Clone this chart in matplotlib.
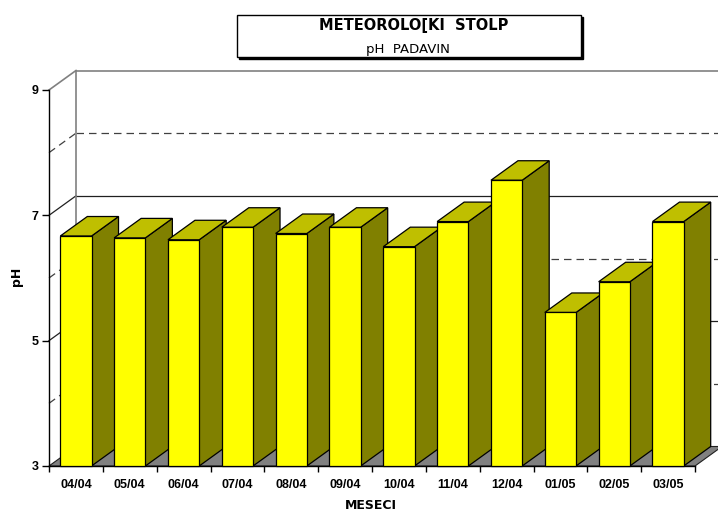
import matplotlib
matplotlib.use('Agg')
import matplotlib.pyplot as plt
from matplotlib.patches import Polygon, Rectangle

plt.rcParams['font.family'] = ['Liberation Sans', 'DejaVu Sans']

# data
months = ['04/04', '05/04', '06/04', '07/04', '08/04', '09/04',
          '10/04', '11/04', '12/04', '01/05', '02/05', '03/05']
ph = [6.67, 6.64, 6.61, 6.81, 6.71, 6.81, 6.50, 6.90, 7.56, 5.45, 5.94, 6.90]
y_ticks = [3, 5, 7, 9]
grid_solid = [5, 7]
grid_dashed = [4, 6, 8]

W, H = 718, 513
fig = plt.figure(figsize=(W / 100, H / 100), dpi=100)
ax = fig.add_axes([49 / W, 1 - 466 / H, 646 / W, 376 / H])
ax.set_xlim(0, 12)
ax.set_ylim(3, 9)

# depth of the fake 3d box, in data units
dx = 27 / (646 / 12)
dy = 19.5 / (376 / 6)
n = len(months)

# back wall + left wall lines
for v in grid_solid:
    ax.plot([dx, n + dx], [v + dy, v + dy], color='#202020', lw=0.9, clip_on=False, zorder=1)
    ax.plot([0, dx], [v, v + dy], color='#202020', lw=0.9, clip_on=False, zorder=1)
for v in grid_dashed:
    ax.plot([dx, n + dx], [v + dy, v + dy], color='#404040', lw=0.9, ls=(0, (6, 4)),
            clip_on=False, zorder=1)
    ax.plot([0, dx], [v, v + dy], color='#404040', lw=0.9, ls=(0, (6, 4)),
            clip_on=False, zorder=1)
ax.plot([dx, n + dx], [9 + dy, 9 + dy], color='#808080', lw=1.2, clip_on=False, zorder=1)
ax.plot([0, dx], [9, 9 + dy], color='#808080', lw=1.2, clip_on=False, zorder=1)
ax.plot([dx, dx], [3 + dy, 9 + dy], color='#808080', lw=1.2, clip_on=False, zorder=1)

# floor
floor = Polygon([(0, 3), (n, 3), (n + dx, 3 + dy), (dx, 3 + dy)], closed=True,
                fc='#808080', ec='#202020', lw=0.8, clip_on=False, zorder=2)
ax.add_patch(floor)

# bars
bw = 0.58
for i, v in enumerate(ph):
    xl = i + 0.5 - bw / 2
    xr = xl + bw
    side = [(xr, 3), (xr + dx, 3 + dy), (xr + dx, v + dy), (xr, v)]
    top = [(xl, v), (xr, v), (xr + dx, v + dy), (xl + dx, v + dy)]
    front = [(xl, 3), (xr, 3), (xr, v), (xl, v)]
    for pts, c in [(side, '#808000'), (top, '#BFBF00'), (front, '#FFFF00')]:
        ax.add_patch(Polygon(pts, closed=True, fc=c, ec='black', lw=0.9,
                             clip_on=False, zorder=3))

# axes styling
for s in ['top', 'right']:
    ax.spines[s].set_visible(False)
ax.spines['left'].set_linewidth(1.0)
ax.spines['bottom'].set_linewidth(1.0)
ax.set_yticks(y_ticks)
ax.set_yticklabels([str(t) for t in y_ticks], fontsize=9, fontweight='bold')
ax.tick_params(axis='y', length=5, width=1, pad=2.5)
ax.set_xticks(range(n + 1))
ax.set_xticklabels([''] * (n + 1))
ax.tick_params(axis='x', which='major', length=4.5, width=1)
ax.set_xticks([i + 0.5 for i in range(n)], minor=True)
ax.set_xticklabels(months, minor=True, fontsize=9, fontweight='bold')
ax.tick_params(axis='x', which='minor', length=0, pad=9.5)

wide = ['DejaVu Sans']
fig.text(371 / W, 1 - 509 / H, 'MESECI', ha='center', va='baseline',
         fontsize=9, fontweight='bold', family=wide)
fig.text(17 / W, 1 - 276 / H, 'pH', ha='center', va='center', rotation=90,
         fontsize=9, fontweight='bold', family=wide)

# title box with shadow
fig.patches.append(Rectangle((239 / W, 1 - 59 / H), 344 / W, 42 / H,
                             transform=fig.transFigure, fc='black', ec='black', lw=1))
fig.patches.append(Rectangle((237 / W, 1 - 57 / H), 344 / W, 42 / H,
                             transform=fig.transFigure, fc='white', ec='black', lw=1))
fig.text(414 / W, 1 - 30 / H, 'METEOROLO[KI  STOLP', ha='center', va='baseline',
         fontsize=10.5, fontweight='bold', family=wide)
fig.text(408 / W, 1 - 53 / H, 'pH  PADAVIN', ha='center', va='baseline',
         fontsize=9.5, family=wide)

fig.savefig('out.png', dpi=100)
